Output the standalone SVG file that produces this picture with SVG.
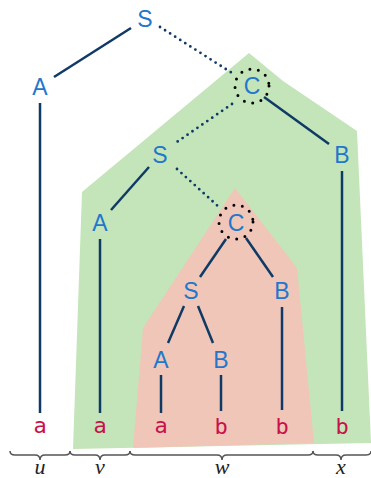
<svg xmlns="http://www.w3.org/2000/svg" width="371" height="478" viewBox="0 0 371 478">
<style>
.n{font-family:"Liberation Sans",Arial,sans-serif;font-size:23px;fill:#2277cc;text-anchor:middle}
.t{font-family:"DejaVu Sans Mono",monospace;font-size:22px;fill:#c8104a;text-anchor:middle}
.l{font-family:"Liberation Serif",serif;font-style:italic;font-size:22px;fill:#222;text-anchor:middle}
.e{stroke:#0f3a66;stroke-width:2.5;fill:none}
.d{stroke:#0f3a66;stroke-width:2.8;fill:none;stroke-dasharray:0 6;stroke-linecap:round}
.c{stroke:#000;stroke-width:3;fill:none;stroke-dasharray:0 8.6;stroke-linecap:round}
.b{stroke:#555;stroke-width:1.5;fill:none}
</style>
<g id="regions">
<polygon points="249,53 283,81 357,131 371,443 73,449 82,192" fill="#c4e5b9"/>
<polygon points="235,188 297,268 314,443 133,448 143,328" fill="#f0c6b8"/>
</g>
<g id="connectors">
<line class="e" x1="131" y1="28" x2="54" y2="77"/>
<line class="d" x1="160" y1="27" x2="232" y2="73"/>
<line class="e" x1="40" y1="103" x2="40" y2="413"/>
<line class="e" x1="264" y1="97" x2="329" y2="144"/>
<line class="d" x1="232" y1="104" x2="174" y2="144"/>
<line class="e" x1="149" y1="167" x2="111" y2="210"/>
<line class="d" x1="177" y1="169" x2="220" y2="208"/>
<line class="e" x1="342" y1="171" x2="342" y2="411"/>
<line class="e" x1="100" y1="239" x2="100" y2="413"/>
<line class="e" x1="226" y1="239" x2="200" y2="277"/>
<line class="e" x1="246" y1="238" x2="273" y2="277"/>
<line class="e" x1="282" y1="307" x2="282" y2="410"/>
<line class="e" x1="184" y1="306" x2="168" y2="343"/>
<line class="e" x1="198" y1="306" x2="213" y2="343"/>
<line class="e" x1="161" y1="375" x2="161" y2="413"/>
<line class="e" x1="221" y1="375" x2="221" y2="411"/>
</g>
<g id="S1"><text class="n" x="145" y="27">S</text></g>
<g id="A1"><text class="n" x="40" y="95">A</text></g>
<g id="C1"><circle class="c" cx="252" cy="86" r="17"/><text class="n" x="252" y="94">C</text></g>
<g id="S2"><text class="n" x="160" y="163">S</text></g>
<g id="B1"><text class="n" x="342" y="163">B</text></g>
<g id="A2"><text class="n" x="100" y="231">A</text></g>
<g id="C2"><circle class="c" cx="236" cy="222" r="17"/><text class="n" x="236" y="231">C</text></g>
<g id="S3"><text class="n" x="191" y="299">S</text></g>
<g id="B2"><text class="n" x="282" y="299">B</text></g>
<g id="A3"><text class="n" x="161" y="368">A</text></g>
<g id="B3"><text class="n" x="221" y="368">B</text></g>
<g id="leaves">
<text class="t" x="40" y="433">a</text>
<text class="t" x="100" y="433">a</text>
<text class="t" x="161" y="433">a</text>
<text class="t" x="221" y="434">b</text>
<text class="t" x="282" y="434">b</text>
<text class="t" x="342" y="434">b</text>
</g>
<g id="braces">
<path class="b" d="M10,451 q0,4 5,4 L35,455 q5,0 5,5 q0,-5 5,-5 L65,455 q5,0 5,-4"/>
<path class="b" d="M70,451 q0,4 5,4 L95,455 q5,0 5,5 q0,-5 5,-5 L125,455 q5,0 5,-4"/>
<path class="b" d="M130,451 q0,4 5,4 L217,455 q5,0 5,5 q0,-5 5,-5 L308,455 q5,0 5,-4"/>
<path class="b" d="M313,451 q0,4 5,4 L336,455 q5,0 5,5 q0,-5 5,-5 L366,455 q5,0 5,-4"/>
<text class="l" x="40" y="474">u</text>
<text class="l" x="100" y="474">v</text>
<text class="l" x="222" y="474">w</text>
<text class="l" x="341" y="474">x</text>
</g>
</svg>
